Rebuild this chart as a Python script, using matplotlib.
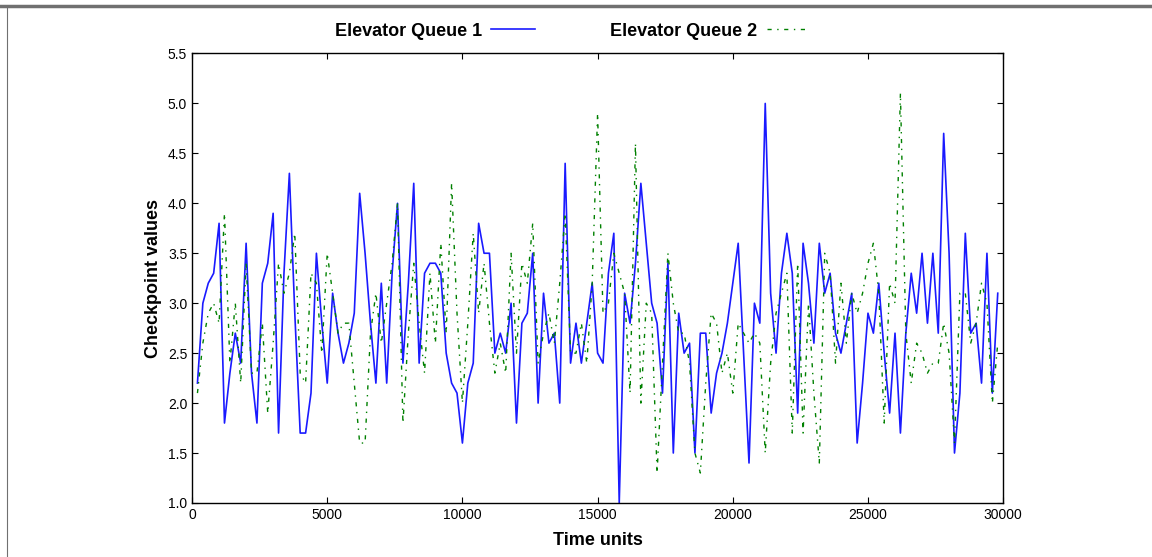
import matplotlib
matplotlib.use('Agg')
import matplotlib.pyplot as plt
from matplotlib.lines import Line2D

plt.rcParams['font.family'] = ['Liberation Sans', 'DejaVu Sans']

# time axis: one sample every 200 units
time_units = list(range(200, 30000, 200))

queue1 = [2.2, 3.0, 3.2, 3.3, 3.8, 1.8, 2.3, 2.7, 2.4, 3.6,
          2.3, 1.8, 3.2, 3.4, 3.9, 1.7, 3.3, 4.3, 2.9, 1.7,
          1.7, 2.1, 3.5, 2.8, 2.2, 3.1, 2.7, 2.4, 2.6, 2.9,
          4.1, 3.5, 2.8, 2.2, 3.2, 2.2, 3.3, 4.0, 2.4, 3.2,
          4.2, 2.4, 3.3, 3.4, 3.4, 3.3, 2.5, 2.2, 2.1, 1.6,
          2.2, 2.4, 3.8, 3.5, 3.5, 2.5, 2.7, 2.5, 3.0, 1.8,
          2.8, 2.9, 3.5, 2.0, 3.1, 2.6, 2.7, 2.0, 4.4, 2.4,
          2.8, 2.4, 2.8, 3.2, 2.5, 2.4, 3.3, 3.7, 1.0, 3.1,
          2.8, 3.4, 4.2, 3.6, 3.0, 2.8, 2.1, 3.4, 1.5, 2.9,
          2.5, 2.6, 1.5, 2.7, 2.7, 1.9, 2.3, 2.5, 2.8, 3.2,
          3.6, 2.5, 1.4, 3.0, 2.8, 5.0, 3.1, 2.5, 3.3, 3.7,
          3.3, 1.9, 3.6, 3.2, 2.6, 3.6, 3.1, 3.3, 2.7, 2.5,
          2.8, 3.1, 1.6, 2.2, 2.9, 2.7, 3.2, 2.5, 1.9, 2.7,
          1.7, 2.7, 3.3, 2.9, 3.5, 2.8, 3.5, 2.7, 4.7, 3.5,
          1.5, 2.1, 3.7, 2.7, 2.8, 2.2, 3.5, 2.1, 3.1]

queue2 = [2.1, 2.6, 2.9, 3.0, 2.8, 3.9, 2.4, 3.0, 2.2, 3.4,
          2.3, 2.3, 2.8, 1.9, 2.6, 3.4, 3.1, 3.3, 3.7, 2.3,
          2.2, 3.3, 3.2, 2.5, 3.5, 3.1, 2.7, 2.8, 2.8, 2.2,
          1.6, 1.6, 2.7, 3.1, 2.6, 3.0, 3.4, 4.0, 1.8, 2.7,
          3.4, 2.8, 2.3, 3.3, 2.6, 3.6, 2.7, 4.2, 2.9, 2.0,
          2.8, 3.7, 2.9, 3.4, 2.8, 2.3, 2.6, 2.3, 3.5, 2.5,
          3.4, 3.2, 3.8, 2.4, 2.7, 2.9, 2.6, 3.2, 3.9, 2.5,
          2.5, 2.8, 2.4, 3.2, 4.9, 2.9, 3.0, 3.5, 3.3, 3.1,
          2.1, 4.6, 2.0, 3.0, 2.9, 1.3, 2.4, 3.5, 3.0, 2.7,
          2.7, 2.4, 1.5, 1.3, 2.2, 2.9, 2.8, 2.3, 2.5, 2.1,
          2.8, 2.7, 2.6, 2.7, 2.6, 1.5, 2.4, 2.9, 3.1, 3.3,
          1.7, 3.4, 1.7, 3.0, 2.1, 1.4, 3.5, 3.3, 2.4, 3.2,
          2.6, 3.1, 2.9, 3.1, 3.4, 3.6, 3.1, 1.8, 3.2, 3.0,
          5.1, 2.7, 2.2, 2.6, 2.5, 2.3, 2.4, 2.4, 2.8, 2.5,
          1.6, 3.1, 3.1, 2.6, 2.8, 3.2, 3.0, 2.0, 2.6]

x_ticks = [0, 5000, 10000, 15000, 20000, 25000, 30000]
y_ticks = [1.0, 1.5, 2.0, 2.5, 3.0, 3.5, 4.0, 4.5, 5.0, 5.5]

fig = plt.figure(figsize=(11.52, 5.57), dpi=100)
ax = fig.add_axes([0.1667, 0.097, 0.7041, 0.807])

ax.plot(time_units, queue1, color='#1a1aff', linestyle='-', linewidth=1.2, label='Elevator Queue 1')
ax.plot(time_units, queue2, color='#008000', linestyle=(0, (3, 4, 1, 4)), linewidth=1.0,
        label='Elevator Queue 2')

ax.set_xlim(0, 30000)
ax.set_ylim(1.0, 5.5)
ax.set_xticks(x_ticks)
ax.set_yticks(y_ticks)
ax.set_yticklabels(['%.1f' % v for v in y_ticks])
ax.tick_params(direction='in', top=True, right=True, labelsize=10, length=4, width=0.8)
for s in ax.spines.values():
    s.set_linewidth(1.0)

ax.set_xlabel('Time units', fontsize=13, fontweight='bold', labelpad=7)
ax.set_ylabel('Checkpoint values', fontsize=13, fontweight='bold', labelpad=4)

fig.legend(loc='center', bbox_to_anchor=(0.497, 0.944), ncol=2, frameon=False,
           markerfirst=False, handlelength=2.4, handletextpad=0.5, columnspacing=4.2,
           prop={'size': 13, 'weight': 'bold'})

# border of the original screenshot
fig.add_artist(Line2D([0, 1], [0.99, 0.99], transform=fig.transFigure, color='#707070', linewidth=2.5))
fig.add_artist(Line2D([0.006, 0.006], [0, 0.99], transform=fig.transFigure, color='#707070', linewidth=0.8))

plt.savefig('out.png', dpi=100)
